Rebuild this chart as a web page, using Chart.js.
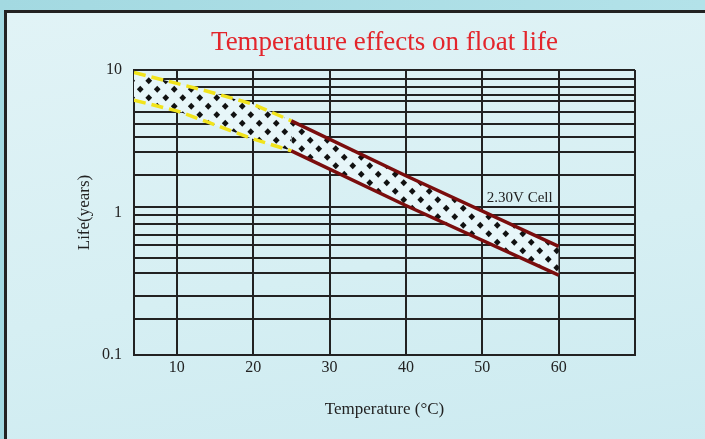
<!DOCTYPE html>
<html>
<head>
<meta charset="utf-8">
<script src="https://cdn.jsdelivr.net/npm/chart.js@4.4.0/dist/chart.umd.min.js"></script>
<style>
    body {
        margin: 0;
        width: 705px;
        height: 439px;
        overflow: hidden;
        position: relative;
        background: linear-gradient(90deg, #a3d9e1, #b3e2e9);
    }
    .panel {
        position: absolute;
        left: 4px;
        top: 10px;
        width: 720px;
        height: 450px;
        border-left: 3px solid #222;
        border-top: 3px solid #222;
        background: linear-gradient(170deg, #e1f3f6 0%, #d6eff3 55%, #cbeaf0 100%);
    }
    canvas {
        position: absolute;
        left: 0;
        top: 0;
    }
</style>
</head>
<body>
<div class="panel"></div>
<canvas id="floatLifeChart" width="705" height="439"></canvas>
<script>
// band edges (temperature in C, life in years)
var temperature = [4.4, 10, 14, 20, 25, 40, 60];
var lifeUpper = [9.6, 8.05, 7.1, 5.75, 4.4, 1.81, 0.578];
var lifeLower = [6.14, 5.17, 4.32, 3.28, 2.71, 1.12, 0.363];

// axis ticks / grid
var xTicks = [10, 20, 30, 40, 50, 60, 70];
var xLabels = ['10', '20', '30', '40', '50', '60', ''];
var yLabels = [0.1, 1, 10];
var yGrid = [8.65, 7.6, 6.66, 6.05, 5.05, 4.21, 3.36, 2.67, 1.84, 1.1,
             0.955, 0.826, 0.7, 0.589, 0.48, 0.377, 0.259, 0.178];

var cellLabel = { text: '2.30V Cell', x: 50.6, y: 1.27 };

var yellow = '#f1e31b';
var darkRed = '#7a0d0d';
var serif = 'Liberation Serif';

function dotPattern() {
    var c = document.createElement('canvas');
    c.width = 17;
    c.height = 17;
    var g = c.getContext('2d');
    g.fillStyle = '#e7f6f9';
    g.fillRect(0, 0, 17, 17);
    g.fillStyle = '#111';
    [[4.25, 4.25], [12.75, 12.75]].forEach(function(p) {
        g.beginPath();
        g.moveTo(p[0], p[1] - 3.4);
        g.lineTo(p[0] + 3.4, p[1]);
        g.lineTo(p[0], p[1] + 3.4);
        g.lineTo(p[0] - 3.4, p[1]);
        g.closePath();
        g.fill();
    });
    return g.createPattern(c, 'repeat');
}

function points(ys) {
    return temperature.map(function(t, i) { return { x: t, y: ys[i] }; });
}

// yellow dashed up to 25C, dark red after
var edgeSegment = {
    borderColor: function(ctx) { return ctx.p0.parsed.x < 25 ? yellow : darkRed; },
    borderDash: function(ctx) { return ctx.p0.parsed.x < 25 ? [12, 6] : []; }
};

var labelPlugin = {
    id: 'cellLabel',
    afterDatasetsDraw: function(chart) {
        var ctx = chart.ctx;
        var x = chart.scales.x, y = chart.scales.y;
        ctx.save();
        ctx.font = '15px "' + serif + '"';
        ctx.fillStyle = '#222';
        ctx.textBaseline = 'middle';
        ctx.fillText(cellLabel.text, x.getPixelForValue(cellLabel.x), y.getPixelForValue(cellLabel.y));
        ctx.restore();
    }
};

function populateLifeChart(chartId) {
    var ctx = document.getElementById(chartId).getContext('2d');
    var myChart = new Chart(ctx, {
        type: 'line',
        data: {
            datasets: [{
                label: 'upper',
                data: points(lifeUpper),
                borderWidth: 3.5,
                borderCapStyle: 'butt',
                segment: edgeSegment,
                pointRadius: 0,
                backgroundColor: dotPattern(),
                fill: '+1'
            }, {
                label: 'lower',
                data: points(lifeLower),
                borderWidth: 3.5,
                borderCapStyle: 'butt',
                segment: edgeSegment,
                pointRadius: 0,
                fill: false
            }]
        },
        options: {
            responsive: false,
            animation: false,
            layout: { padding: { left: 0, right: 70, top: 0, bottom: 0 } },
            plugins: {
                legend: { display: false },
                tooltip: { enabled: false },
                filler: { drawTime: 'beforeDatasetsDraw' },
                title: {
                    display: true,
                    fullSize: false,
                    text: 'Temperature effects on float life',
                    color: '#e3252b',
                    font: { family: serif, size: 27, weight: 'normal' },
                    padding: { top: 26.8, bottom: 10.8 }
                }
            },
            scales: {
                x: {
                    type: 'linear',
                    min: 4.4,
                    max: 70,
                    afterFit: function(s) { s.height = 84; },
                    afterBuildTicks: function(s) {
                        s.ticks = xTicks.map(function(v) { return { value: v }; });
                    },
                    grid: { color: '#222', lineWidth: 2, drawTicks: false },
                    border: { color: '#222', width: 2 },
                    ticks: {
                        autoSkip: false,
                        maxRotation: 0,
                        padding: 3,
                        color: '#222',
                        font: { family: serif, size: 16 },
                        callback: function(v) { return xLabels[xTicks.indexOf(v)]; }
                    },
                    title: {
                        display: true,
                        text: 'Temperature (°C)',
                        color: '#222',
                        font: { family: serif, size: 17 },
                        padding: { top: 0, bottom: 19 }
                    }
                },
                y: {
                    type: 'logarithmic',
                    min: 0.1,
                    max: 10,
                    afterFit: function(s) { s.width = 134; },
                    afterBuildTicks: function(s) {
                        s.ticks = yLabels.concat(yGrid).map(function(v) { return { value: v }; });
                    },
                    grid: {
                        color: function(c) { return c.tick && c.tick.value === 1 ? 'rgba(0,0,0,0)' : '#222'; },
                        lineWidth: 2,
                        drawTicks: false
                    },
                    border: { color: '#222', width: 2 },
                    ticks: {
                        autoSkip: false,
                        padding: 12,
                        color: '#222',
                        font: { family: serif, size: 16 },
                        callback: function(v) { return yLabels.indexOf(v) >= 0 ? String(v) : ''; }
                    },
                    title: {
                        display: true,
                        text: 'Life(years)',
                        color: '#222',
                        font: { family: serif, size: 17 },
                        padding: { top: 74, bottom: 0 }
                    }
                }
            }
        },
        plugins: [labelPlugin]
    });
}

populateLifeChart('floatLifeChart');
</script>
</body>
</html>
